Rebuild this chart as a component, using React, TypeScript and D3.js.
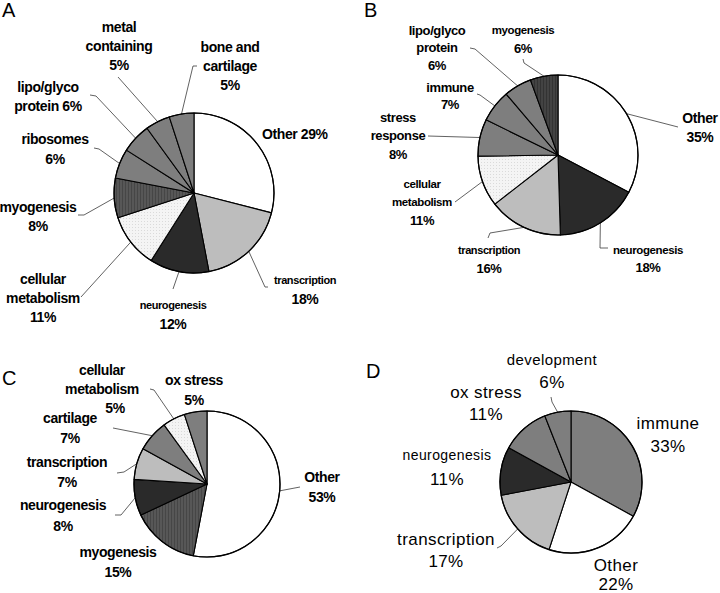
import React from "react";
import * as d3 from "d3";

// ---------- DATA ----------
const aCategories = ["Other", "transcription", "neurogenesis", "cellular metabolism", "myogenesis", "ribosomes", "lipo/glyco protein", "metal containing", "bone and cartilage"];
const aValues = [29, 18, 12, 11, 8, 6, 6, 5, 5];

const bCategories = ["Other", "neurogenesis", "transcription", "cellular metabolism", "stress response", "immune", "lipo/glyco protein", "myogenesis"];
const bValues = [35, 18, 16, 11, 8, 7, 6, 6];

const cCategories = ["Other", "myogenesis", "neurogenesis", "transcription", "cartilage", "cellular metabolism", "ox stress"];
const cValues = [53, 15, 8, 7, 7, 5, 5];

const dCategories = ["immune", "Other", "transcription", "neurogenesis", "ox stress", "development"];
const dValues = [33, 22, 17, 11, 11, 6];

// ---------- STYLE / LAYOUT ----------
const FONT = "'Liberation Sans', Arial, sans-serif";
const FILL: Record<string, string> = {
  white: "#ffffff",
  light: "#bdbdbd",
  dark: "#2a2a2a",
  gray: "#7e7e7e",
  dots: "url(#dots)",
  hatch: "url(#hatch)",
  hatchDark: "url(#hatchDark)",
};

type Line = string | { t: string; size?: number; dx?: number };
type LabelSpec = {
  i: number;
  x: number;
  y: number;
  lh?: number;
  lines: Line[];
  anchor?: "start" | "middle" | "end";
  leader?: [number, number][];
};
type Panel = {
  letter: string;
  lx: number;
  ly: number;
  cx: number;
  cy: number;
  r: number;
  categories: string[];
  values: number[];
  fills: string[];
  weight: string;
  size: number;
  spacing: number;
  labels: LabelSpec[];
};

const panels: Panel[] = [
  {
    letter: "A", lx: 2, ly: 17, cx: 194, cy: 193, r: 80,
    categories: aCategories, values: aValues,
    fills: ["white", "light", "dark", "dots", "hatch", "gray", "gray", "gray", "gray"],
    weight: "bold", size: 14, spacing: -0.4,
    labels: [
      { i: 0, x: 262, y: 134, lines: ["Other {v}"], anchor: "start" },
      { i: 1, x: 305, y: 280, lh: 19, lines: [{ t: "transcription", size: 11 }, "{v}"], leader: [[268, 287], [265, 287]] },
      { i: 2, x: 173, y: 305, lh: 19, lines: [{ t: "neurogenesis", size: 11 }, "{v}"], leader: [[173, 289]] },
      { i: 3, x: 43, y: 279, lh: 19, lines: ["cellular", "metabolism", "{v}"], leader: [[81, 297]] },
      { i: 4, x: 38, y: 207, lh: 19, lines: ["myogenesis", "{v}"], leader: [[78, 215], [84, 215]] },
      { i: 5, x: 55, y: 139, lh: 20, lines: ["ribosomes", "{v}"], leader: [[94, 148], [99, 149]] },
      { i: 6, x: 48, y: 87, lh: 19, lines: ["lipo/glyco", "protein {v}"], leader: [[90, 95], [96, 96]] },
      { i: 7, x: 119, y: 27, lh: 19, lines: ["metal", "containing", "{v}"], leader: [[118, 77]] },
      { i: 8, x: 230, y: 47, lh: 19, lines: ["bone and", "cartilage", "{v}"], leader: [[197, 66], [193, 66]] },
    ],
  },
  {
    letter: "B", lx: 364, ly: 17, cx: 558, cy: 155, r: 80,
    categories: bCategories, values: bValues,
    fills: ["white", "dark", "light", "dots", "gray", "gray", "gray", "hatchDark"],
    weight: "bold", size: 13, spacing: -0.4,
    labels: [
      { i: 0, x: 700, y: 118, lh: 19, lines: [{ t: "Other", size: 14 }, { t: "{v}", size: 14 }], leader: [[678, 127]] },
      { i: 1, x: 648, y: 250, lh: 17, lines: [{ t: "neurogenesis", size: 11.5 }, "{v}"], leader: [[608, 248], [600, 248]] },
      { i: 2, x: 489, y: 250, lh: 18, lines: [{ t: "transcription", size: 11 }, "{v}"], leader: [[488, 238], [490, 233]] },
      { i: 3, x: 422, y: 184, lh: 18, lines: [{ t: "cellular", size: 11.5 }, { t: "metabolism", size: 11.5 }, "{v}"], leader: [[455, 202]] },
      { i: 4, x: 398, y: 117, lh: 18.5, lines: ["stress", "response", "{v}"], leader: [[428, 136]] },
      { i: 5, x: 450, y: 87, lh: 17.5, lines: ["immune", "{v}"], leader: [[477, 94], [480, 95]] },
      { i: 6, x: 437, y: 30, lh: 17.5, lines: ["lipo/glyco", "protein", "{v}"], leader: [[470, 48], [475, 49]] },
      { i: 7, x: 523, y: 30, lh: 18, lines: [{ t: "myogenesis", size: 11.5 }, "{v}"], leader: [[523, 59], [524, 63]] },
    ],
  },
  {
    letter: "C", lx: 2, ly: 385, cx: 207, cy: 484, r: 73,
    categories: cCategories, values: cValues,
    fills: ["white", "hatch", "dark", "light", "gray", "dots", "gray"],
    weight: "bold", size: 14, spacing: -0.4,
    labels: [
      { i: 0, x: 322, y: 477, lh: 20, lines: ["Other", "{v}"], leader: [[300, 487]] },
      { i: 1, x: 118, y: 552, lh: 20, lines: ["myogenesis", "{v}"] },
      { i: 2, x: 63, y: 505, lh: 21, lines: ["neurogenesis", "{v}"], leader: [[115, 515], [121, 515]] },
      { i: 3, x: 67, y: 462, lh: 20, lines: ["transcription", "{v}"], leader: [[117, 473], [124, 472]] },
      { i: 4, x: 70, y: 418, lh: 20, lines: ["cartilage", "{v}"], leader: [[113, 428]] },
      { i: 5, x: 102, y: 370, lh: 19, lines: ["cellular", "metabolism", { t: "{v}", dx: 13 }], leader: [[150, 389], [154, 390]] },
      { i: 6, x: 194, y: 380, lh: 20, lines: ["ox stress", "{v}"] },
    ],
  },
  {
    letter: "D", lx: 366, ly: 378, cx: 571, cy: 482, r: 71,
    categories: dCategories, values: dValues,
    fills: ["gray", "white", "light", "dark", "gray", "gray"],
    weight: "normal", size: 17, spacing: 0.4,
    labels: [
      { i: 0, x: 668, y: 423, lh: 23, lines: ["immune", "{v}"] },
      { i: 1, x: 616, y: 565, lh: 19, lines: ["Other", "{v}"] },
      { i: 2, x: 446, y: 539, lh: 22, lines: ["transcription", "{v}"], leader: [[497, 548], [501, 546]] },
      { i: 3, x: 447, y: 455, lh: 24, lines: [{ t: "neurogenesis", size: 14 }, "{v}"] },
      { i: 4, x: 486, y: 392, lh: 22, lines: ["ox stress", "{v}"] },
      { i: 5, x: 552, y: 360, lh: 22, lines: [{ t: "development", size: 15 }, "{v}"], leader: [[551, 397], [552, 402]] },
    ],
  },
];

function PiePanel({ p }: { p: Panel }) {
  const arcs = d3.pie<number>().sort(null).value((d) => d)(p.values);
  const arcGen = d3.arc<d3.PieArcDatum<number>>().innerRadius(0).outerRadius(p.r);
  const line = d3.line();
  return (
    <g>
      <text x={p.lx} y={p.ly} fontFamily={FONT} fontSize={20} fill="#000">{p.letter}</text>
      {p.labels.map((l, k) => {
        if (!l.leader) return null;
        const a = arcs[l.i];
        const mid = (a.startAngle + a.endAngle) / 2;
        const end: [number, number] = [p.cx + p.r * Math.sin(mid), p.cy - p.r * Math.cos(mid)];
        return <path key={"ld" + k} d={line([...l.leader, end]) || ""} fill="none" stroke="#3a3a3a" strokeWidth={0.8} />;
      })}
      <g transform={`translate(${p.cx},${p.cy})`}>
        {arcs.map((a, k) => (
          <path key={k} d={arcGen(a) || ""} fill={FILL[p.fills[k]]} stroke="#000" strokeWidth={1.1} strokeLinejoin="round" />
        ))}
        <circle r={p.r} fill="none" stroke="#000" strokeWidth={1.2} />
      </g>
      {p.labels.map((l, k) => {
        const v = `${p.values[l.i]}%`;
        return (
          <g key={"lb" + k}>
            {l.lines.map((ln, j) => {
              const o = typeof ln === "string" ? { t: ln } : ln;
              const size = o.size ?? p.size;
              const txt = o.t.replace("{v}", v);
              return (
                <text
                  key={j}
                  x={l.x + (o.dx ?? 0)}
                  y={l.y + j * (l.lh ?? 19) + size * 0.36}
                  textAnchor={l.anchor ?? "middle"}
                  fontFamily={FONT}
                  fontWeight={p.weight}
                  fontSize={size}
                  letterSpacing={p.spacing}
                  fill="#000"
                >
                  {txt}
                </text>
              );
            })}
          </g>
        );
      })}
    </g>
  );
}

export default function App() {
  return (
    <div style={{ position: "absolute", left: 0, top: 0 }}>
      <svg width={720} height={593} viewBox="0 0 720 593" style={{ display: "block", background: "#fff" }}>
        <defs>
          <pattern id="dots" width="3" height="3" patternUnits="userSpaceOnUse">
            <rect width="3" height="3" fill="#f4f4f4" />
            <rect x="1" y="1" width="1" height="1" fill="#dadada" />
          </pattern>
          <pattern id="hatch" width="3" height="3" patternUnits="userSpaceOnUse">
            <rect width="3" height="3" fill="#575757" />
            <rect x="0" y="0" width="1" height="3" fill="#464646" />
          </pattern>
          <pattern id="hatchDark" width="3" height="3" patternUnits="userSpaceOnUse">
            <rect width="3" height="3" fill="#434343" />
            <rect x="0" y="0" width="1" height="3" fill="#333333" />
          </pattern>
        </defs>
        {panels.map((p) => (
          <PiePanel key={p.letter} p={p} />
        ))}
      </svg>
    </div>
  );
}
